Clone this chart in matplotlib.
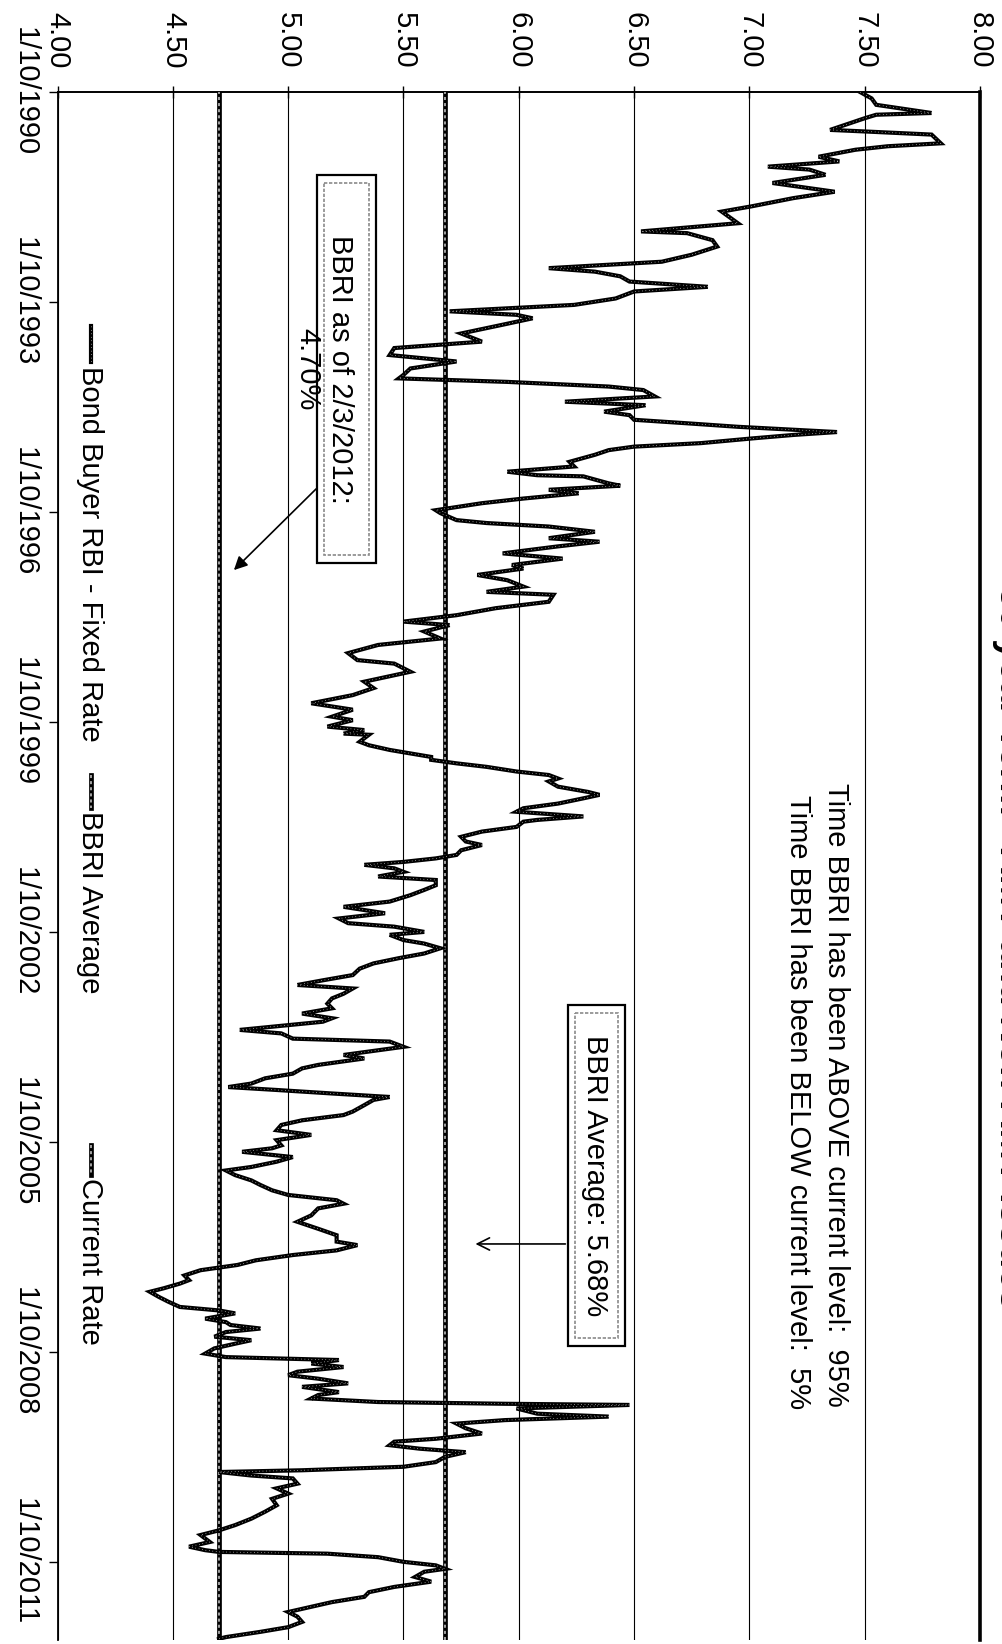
import matplotlib.pyplot as plt
from matplotlib.lines import Line2D
from matplotlib.patches import Rectangle

plt.rcParams['font.family'] = ['Liberation Sans', 'DejaVu Sans']

# weekly index read as months since 1/10/1990, and the rate in percent
months = [
    0.0, 1.1, 2.2, 3.6, 3.9, 4.5, 6.5, 6.8, 7.3, 8.8, 9.3, 9.9, 11.1, 11.9, 12.8, 13.3,
    14.2, 15.6, 17.1, 18.2, 19.6, 20.5, 22.5, 23.9, 24.2, 25.4, 26.5, 27.9, 29.1, 30.2,
    30.8, 31.6, 32.5, 33.4, 34.2, 35.4, 36.5, 37.6, 38.2, 38.8, 39.9, 41.4, 42.8, 43.9,
    45.1, 46.2, 47.4, 48.5, 49.1, 49.7, 50.5, 51.1,
    52.2, 53.1, 53.7, 54.8, 55.4, 56.2, 56.8, 57.4, 57.9, 58.3, 58.8, 59.4, 60.2, 60.8,
    61.4, 62.2, 63.4, 64.2, 65.1, 65.7, 65.9, 67.1, 67.5, 68.2, 68.8, 69.7, 70.5, 71.7,
    72.2, 73.4, 73.9, 74.5, 75.4, 76.5, 77.1, 77.9, 79.1, 80.0, 81.1, 81.7, 82.8, 83.7,
    84.8, 85.7, 86.2, 87.4, 88.5, 89.7, 90.8, 91.4, 92.5, 93.7, 94.8, 96.2, 97.4, 98.0,
    99.4, 101.1, 102.2, 103.4, 104.8,
    105.9, 107.1, 107.7, 108.8, 109.4, 110.0, 110.2, 111.4, 112.0, 112.8, 113.4, 114.0,
    114.5, 115.1, 115.7, 116.5, 117.1, 117.7, 118.2, 119.1, 120.0, 120.5, 121.1, 122.0,
    122.8, 123.4, 124.2, 124.8, 125.1, 126.0, 126.8, 127.7, 128.5, 129.1, 130.0, 130.8,
    131.4, 132.0, 132.5, 133.1, 133.7, 134.5, 135.1, 136.0, 136.8, 137.7, 138.8, 139.7,
    140.8, 141.7, 142.5, 143.1, 144.0, 144.5, 145.4, 146.0, 146.8, 147.7, 148.5, 149.4,
    150.3, 151.4, 152.3, 153.1, 153.7, 154.6, 155.4, 156.3, 157.1, 158.0,
    158.8, 159.4, 160.8, 161.4, 162.3, 162.8, 163.7, 164.3, 165.1, 165.7, 166.8, 167.4,
    168.3, 169.1, 170.0, 170.6, 171.1, 171.7, 172.3, 172.8, 173.7, 174.8, 175.4, 176.3,
    177.1, 178.0, 178.8, 179.7, 180.6, 181.1, 181.7, 182.6, 183.4, 184.3, 184.9, 185.7,
    186.6, 187.4, 188.3, 189.1, 190.0, 190.6, 191.4, 192.6, 193.7, 194.9, 196.0, 197.1,
    197.7, 198.6, 199.4, 200.3, 201.1, 202.0, 202.9, 203.7, 204.3, 205.1, 205.7, 206.6,
    207.4, 208.3, 208.9, 209.4, 210.3, 210.9,
    211.4, 212.0, 212.6, 213.4, 214.0, 214.6, 215.4, 216.3, 216.9, 217.1, 217.4, 218.0,
    218.6, 219.4, 220.0, 220.6, 221.4, 222.0, 222.9, 223.4, 224.0, 224.6, 224.9, 225.1,
    225.7, 226.6, 227.1, 227.7, 228.3, 229.1, 230.0, 230.9, 231.4, 232.0, 232.6, 233.2,
    234.0, 234.9, 235.7, 236.3, 236.6, 237.2, 237.7, 238.6, 239.4, 240.3, 241.2, 242.3,
    243.4, 244.6, 245.7, 246.6, 247.4, 248.6, 249.4, 250.0, 250.3, 250.6, 251.2, 252.0,
    252.6, 253.2, 253.7, 254.6, 255.4, 256.3, 257.2, 258.0, 258.9, 259.7, 260.6, 261.4,
    262.3, 263.2, 264.0, 264.9, 265.2,
]
rate = [
    7.48, 7.53, 7.55, 7.79, 7.55, 7.50, 7.35, 7.52, 7.79, 7.83, 7.60, 7.46, 7.30, 7.39, 7.08, 7.26,
    7.33, 7.10, 7.37, 7.19, 7.01, 6.88, 6.95, 6.53, 6.73, 6.84, 6.86, 6.75, 6.62, 6.13,
    6.33, 6.44, 6.48, 6.82, 6.50, 6.42, 6.24, 5.70, 5.99, 6.06, 5.93, 5.75, 5.84, 5.46,
    5.44, 5.73, 5.53, 5.50, 5.48, 5.95, 6.39, 6.54,
    6.59, 6.20, 6.55, 6.37, 6.48, 6.50, 6.73, 6.95, 7.19, 7.38, 7.19, 7.01, 6.79, 6.50,
    6.39, 6.33, 6.22, 6.24, 5.95, 6.08, 6.28, 6.39, 6.44, 6.13, 6.26, 6.02, 5.84, 5.64,
    5.66, 5.73, 5.86, 6.13, 6.33, 6.13, 6.35, 6.17, 5.93, 6.19, 5.97, 6.02, 5.82, 5.95,
    6.02, 5.86, 6.15, 6.13, 5.90, 5.73, 5.50, 5.70, 5.59, 5.66, 5.39, 5.26, 5.30, 5.46,
    5.53, 5.33, 5.37, 5.28, 5.10,
    5.28, 5.19, 5.28, 5.17, 5.33, 5.24, 5.35, 5.31, 5.35, 5.44, 5.53, 5.62,
    5.62, 5.73, 5.86, 5.99, 6.13, 6.17, 6.13, 6.17, 6.30, 6.35, 6.28, 6.17,
    6.02, 5.99, 6.28, 6.08, 6.02, 5.99, 5.84, 5.75, 5.77, 5.84, 5.75, 5.73,
    5.64, 5.50, 5.33, 5.46, 5.50, 5.39, 5.64, 5.64, 5.59, 5.53, 5.44, 5.24,
    5.42, 5.22, 5.26, 5.46, 5.59, 5.44, 5.50, 5.59, 5.66, 5.59, 5.48, 5.37,
    5.31, 5.28, 5.15, 5.04, 5.28, 5.24, 5.19, 5.17, 5.19, 5.06,
    5.19, 5.15, 4.79, 4.97, 5.02, 5.44, 5.50, 5.39, 5.24, 5.33, 5.13, 5.06,
    5.02, 4.90, 4.84, 4.74, 4.95, 5.19, 5.44, 5.37, 5.33, 5.28, 5.24, 5.06,
    4.97, 4.95, 5.10, 4.95, 4.97, 4.93, 4.80, 5.02, 4.95, 4.84, 4.73, 4.77,
    4.84, 4.88, 4.93, 5.00, 5.21, 5.24, 5.13, 5.10, 5.04, 5.13, 5.21, 5.21,
    5.30, 5.21, 5.02, 4.86, 4.78, 4.62, 4.55, 4.57, 4.53, 4.46, 4.40, 4.44,
    4.48, 4.53, 4.70, 4.77, 4.64, 4.73,
    4.75, 4.88, 4.73, 4.68, 4.84, 4.77, 4.68, 4.64, 4.73, 4.93, 5.22, 5.10,
    5.24, 5.04, 5.00, 5.13, 5.26, 5.06, 5.22, 5.13, 5.10, 5.39, 5.94, 6.48,
    5.99, 6.08, 6.39, 5.94, 5.73, 5.77, 5.84, 5.64, 5.46, 5.44, 5.57, 5.77,
    5.68, 5.64, 5.50, 5.06, 4.70, 4.84, 5.02, 5.04, 4.95, 5.00, 4.93, 4.95,
    4.90, 4.84, 4.77, 4.70, 4.62, 4.66, 4.57, 4.64, 4.70, 5.17, 5.39, 5.50,
    5.64, 5.68, 5.59, 5.55, 5.62, 5.46, 5.35, 5.33, 5.19, 5.10, 5.00, 5.04,
    5.06, 5.00, 4.88, 4.73, 4.70,
]

bbri_average = 5.68
current_rate = 4.70
pct_above = 95
pct_below = 5

date_ticks = [0, 36, 72, 108, 144, 180, 216, 252]
date_labels = ['1/10/1990', '1/10/1993', '1/10/1996', '1/10/1999',
               '1/10/2002', '1/10/2005', '1/10/2008', '1/10/2011']
rate_ticks = [4.0, 4.5, 5.0, 5.5, 6.0, 6.5, 7.0, 7.5, 8.0]

W, H = 1003, 1644


def fx(px):
    return px / W


def fy(py):
    return 1 - py / H


fig = plt.figure(figsize=(W / 100, H / 100), dpi=100)
fig.patch.set_facecolor('white')

# page is turned a quarter: rate runs left to right, time runs downward
ax = fig.add_axes([fx(57.6), fy(1640), fx(980) - fx(57.6), fy(92) - fy(1640)])
ax.set_xlim(4, 8)
ax.set_ylim(265.4, 0)

ax.grid(axis='x', color='black', lw=0.8)
ax.set_axisbelow(True)

ax.plot(rate, months, color='black', lw=3.0, solid_joinstyle='miter', zorder=4)
ax.plot(rate, months, color='white', lw=0.5, ls=(0, (1, 4)), zorder=4.5)

for level in (bbri_average, current_rate):
    ax.axvline(level, color='black', lw=3.4, zorder=3)
    ax.axvline(level, color='#cfcfcf', lw=1.1, ls=(0, (2, 2)), zorder=3.2)

ax.spines['bottom'].set_visible(False)
ax.spines['top'].set_linewidth(1.4)
ax.spines['left'].set_linewidth(1.3)
ax.spines['right'].set_linewidth(2.6)

ax.xaxis.tick_top()
ax.set_xticks(rate_ticks, [f'{v:.2f}' for v in rate_ticks], rotation=-90)
ax.tick_params(axis='x', direction='inout', length=8, width=1, pad=13, labelsize=21)
ax.set_yticks(date_ticks, date_labels, rotation=-90, va='center')
ax.tick_params(axis='y', direction='out', length=6.5, width=1, pad=7, labelsize=21)

# note box for the latest reading
ax.add_patch(Rectangle((5.125, 14.2), 0.256, 66.5, fc='white', ec='black', lw=1.6, zorder=5))
ax.add_patch(Rectangle((5.155, 15.6), 0.196, 63.7, fill=False, ec='#8a8a8a', lw=1.2,
                       ls=(0, (2, 1)), zorder=5))
ax.text(5.153, 47.6, f'BBRI as of 2/3/2012:\n{current_rate:.2f}%', rotation=-90,
        ha='center', va='center', multialignment='center', fontsize=21, zorder=6)
ax.annotate('', xy=(4.756, 82.3), xytext=(5.13, 67.7),
            arrowprops=dict(arrowstyle='-|>', color='black', lw=1.2, mutation_scale=20),
            zorder=6)

# note box for the long-run average
ax.add_patch(Rectangle((6.214, 156.5), 0.247, 58.5, fc='white', ec='black', lw=1.6, zorder=5))
ax.add_patch(Rectangle((6.244, 157.9), 0.187, 55.7, fill=False, ec='#8a8a8a', lw=1.2,
                       ls=(0, (2, 1)), zorder=5))
ax.text(6.33, 185.7, f'BBRI Average: {bbri_average:.2f}%', rotation=-90,
        ha='center', va='center', fontsize=21, zorder=6)
ax.annotate('', xy=(5.80, 197.5), xytext=(6.214, 197.5),
            arrowprops=dict(arrowstyle='->', color='black', lw=1.2, mutation_scale=22),
            zorder=6)

ax.text(7.376, 118.5, f'Time BBRI has been ABOVE current level:  {pct_above}%',
        rotation=-90, ha='center', va='top', fontsize=21, zorder=6)
ax.text(7.21, 120.5, f'Time BBRI has been BELOW current level:  {pct_below}%',
        rotation=-90, ha='center', va='top', fontsize=21, zorder=6)

# title sits at the page edge and runs off it
fig.text(fx(992), fy(947), '30 year Term - AMT and Non-AMT Issues', rotation=-90,
         ha='left', va='center', fontsize=27, fontweight='bold')

# legend along the left edge
legend_items = [
    ('Bond Buyer RBI - Fixed Rate', 326, 362, 366, 'series'),
    ('BBRI Average', 775, 808, 811, 'level'),
    ('Current Rate', 1145, 1175, 1178, 'level'),
]
for label, y0, y1, ty, kind in legend_items:
    if kind == 'series':
        fig.add_artist(Line2D([fx(91), fx(91)], [fy(y0), fy(y1)], color='black', lw=3.0))
        fig.add_artist(Line2D([fx(91), fx(91)], [fy(y0), fy(y1)], color='white', lw=0.5,
                              ls=(0, (1, 4))))
    else:
        fig.add_artist(Line2D([fx(91), fx(91)], [fy(y0), fy(y1)], color='black', lw=3.4))
        fig.add_artist(Line2D([fx(91), fx(91)], [fy(y0), fy(y1)], color='#cfcfcf', lw=1.1,
                              ls=(0, (2, 2))))
    fig.text(fx(90), fy(ty), label, rotation=-90, ha='center', va='top', fontsize=21)

fig.savefig('out.png', dpi=100)
